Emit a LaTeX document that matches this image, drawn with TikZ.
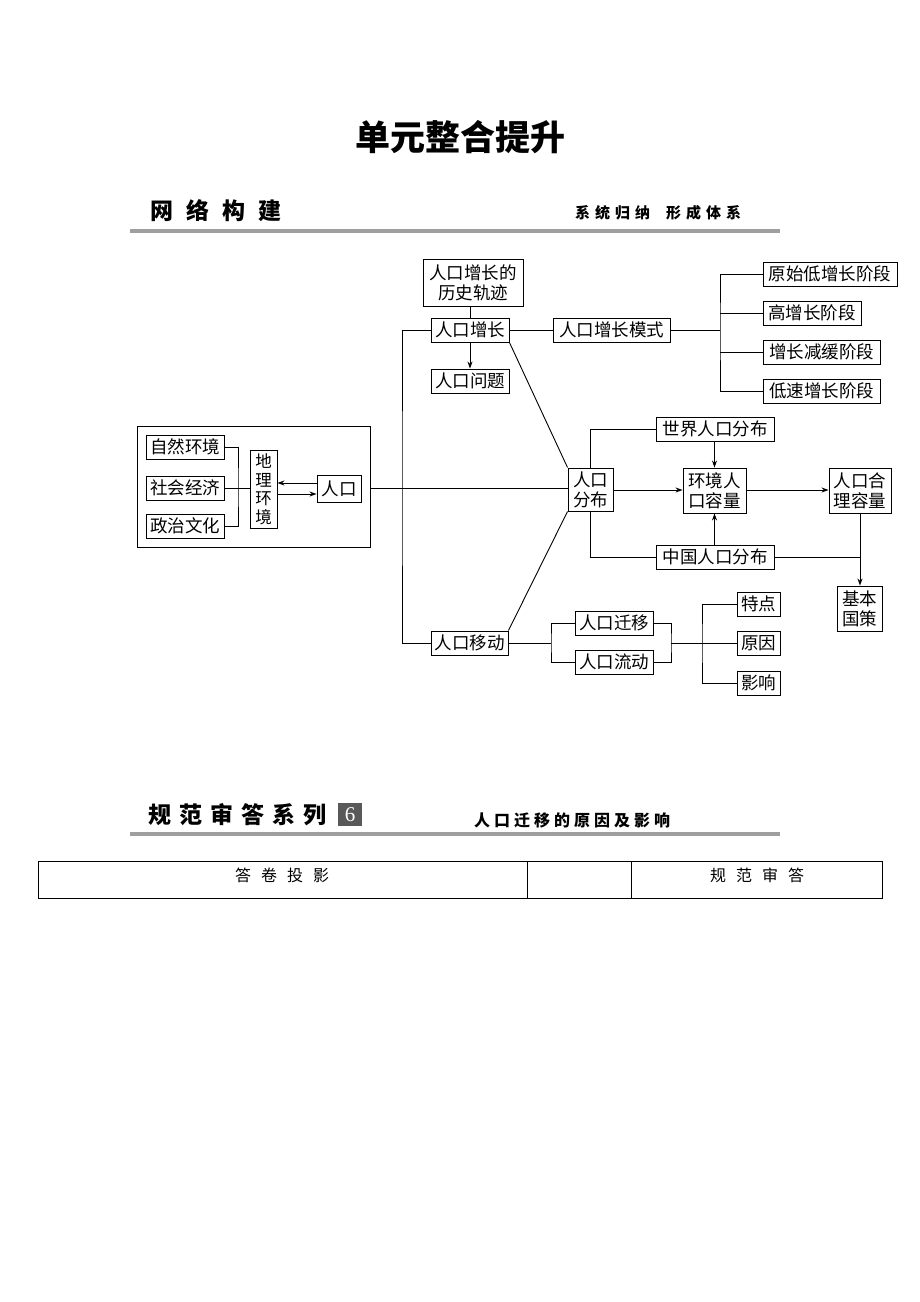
\documentclass[tikz,border=0pt]{standalone}
\usepackage{fontspec}
\setmainfont{Noto Sans CJK SC}
\newfontfamily\serifd{Liberation Serif}
\usetikzlibrary{arrows.meta}
\tikzset{
  box/.style={draw, line width=0.9pt, inner sep=0pt, align=center, font=\fontsize{17.5}{20}\selectfont},
  ln/.style={line width=0.9pt},
  arr/.style={ln, -{Stealth[length=7pt,width=5pt]}},
  bar/.style={line width=4pt, color=gray!75},
  hdr/.style={inner sep=0pt, anchor=west, font=\fontsize{23}{26}\selectfont\bfseries},
  sub/.style={inner sep=0pt, anchor=west, font=\fontsize{15}{18}\selectfont\bfseries},
}
\newcommand\bxn[6]{\node[box, minimum width={#4-#2}, minimum height={#5-#3}] (#1) at ({(#2+#4)/2},{(#3+#5)/2}) {#6};}
\begin{document}
\begin{tikzpicture}[x=1pt,y=-1pt]
\useasboundingbox[fill=white] (0,0) rectangle (920,1302);
% title
\node[inner sep=0pt, font=\fontsize{35}{40}\selectfont\bfseries] (title) at (460,137) {单元整合提升};
% header 1
\node[hdr] (h1) at (150,211) {网\hspace{13pt}络\hspace{13pt}构\hspace{13pt}建};
\node[sub] (h1r) at (575,213) {系\hspace{5pt}统\hspace{5pt}归\hspace{5pt}纳\hspace{16pt}形\hspace{5pt}成\hspace{5pt}体\hspace{5pt}系};
\coordinate (b1l) at (130,231); \coordinate (b1r) at (780,231);
\draw[bar] (b1l) -- (b1r);
% boxes
\bxn{ls}{423}{259}{523}{306}{人口增长的\\历史轨迹}
\bxn{rzz}{431}{318}{509}{342}{人口增长}
\bxn{rwt}{431}{369}{509}{393}{人口问题}
\bxn{ms}{553}{318}{670}{342}{人口增长模式}
\bxn{s1}{763}{262}{897}{286}{原始低增长阶段}
\bxn{s2}{763}{301}{861}{325}{高增长阶段}
\bxn{s3}{763}{340}{880}{364}{增长减缓阶段}
\bxn{s4}{763}{379}{880}{403}{低速增长阶段}
\node[draw, line width=0.9pt, minimum width=233pt, minimum height=121pt, inner sep=0pt] (big) at (253.5,486.5) {};
\bxn{zr}{146}{435}{224}{459}{自然环境}
\bxn{sh}{146}{476}{224}{500}{社会经济}
\bxn{zz}{146}{514}{224}{538}{政治文化}
\node[box, minimum width=27pt, minimum height=78pt, font=\fontsize{16.5}{18.5}\selectfont] (dl) at (263.5,489) {地\\理\\环\\境};
\bxn{rk}{317}{475}{361}{502}{人口}
\bxn{rfb}{568}{468}{613}{511}{人口\\分布}
\bxn{sj}{656}{417}{774}{441}{世界人口分布}
\bxn{hj}{683}{468}{746}{513}{环境人\\口容量}
\bxn{hl}{829}{468}{891}{513}{人口合\\理容量}
\bxn{zg}{656}{545}{774}{569}{中国人口分布}
\bxn{jb}{837}{586}{882}{631}{基本\\国策}
\bxn{ryd}{431}{631}{508}{655}{人口移动}
\bxn{qy}{575}{611}{653}{635}{人口迁移}
\bxn{ld}{575}{650}{653}{674}{人口流动}
\bxn{td}{737}{592}{780}{616}{特点}
\bxn{yy}{737}{631}{780}{655}{原因}
\bxn{yx}{737}{671}{780}{695}{影响}
% helper coordinates
\coordinate (lx) at (402,490);
\coordinate (bx2) at (720,330);
\coordinate (bx1) at (238,488);
\coordinate (y483) at (0,483);
\coordinate (y494) at (0,494);
\coordinate (y490) at (0,490);
\coordinate (c551) at (551,643);
\coordinate (c671) at (671,643);
\coordinate (c702) at (702,643);
% connectors
\draw[ln] (rzz.north) -- (rzz.north |- ls.south);
\draw[arr] (rzz.south) -- (rwt.north);
\draw[ln] (rzz.east) -- (ms.west);
\draw[ln] (ms.east) -- (bx2);
\draw[ln] (s1.west) -| (bx2) |- (s4.west);
\draw[ln] (s2.west) -- (s2.west -| bx2);
\draw[ln] (s3.west) -- (s3.west -| bx2);
\draw[ln] (rzz.west) -| (lx) |- (ryd.west);
\draw[ln] (zr.east) -| (bx1) |- (zz.east);
\draw[ln] (sh.east) -- (dl.west |- sh.east);
\draw[arr] (rk.west |- y483) -- (dl.east |- y483);
\draw[arr] (dl.east |- y494) -- (rk.west |- y494);
\draw[ln] (big.east |- rk) -- (rfb.west |- rk);
\draw[ln] (rzz.south east) -- (rfb.north west);
\draw[ln] (ryd.north east) -- (rfb.south west);
\draw[ln] (rfb.north) |- (sj.west);
\draw[arr] (sj.south -| hj.north) -- (hj.north);
\draw[ln] (rfb.south) |- (zg.west);
\draw[arr] (zg.north -| hj.south) -- (hj.south);
\draw[arr] (rfb.east |- y490) -- (hj.west |- y490);
\draw[arr] (hj.east |- y490) -- (hl.west |- y490);
\draw[ln] (zg.east) -- (zg.east -| hl.south);
\draw[arr] (hl.south) -- (jb.north -| hl.south);
\draw[ln] (ryd.east) -- (c551);
\draw[ln] (qy.west) -| (c551) |- (ld.west);
\draw[ln] (qy.east) -| (c671) |- (ld.east);
\draw[ln] (c671) -- (c702);
\draw[ln] (td.west) -| (c702) |- (yx.west);
\draw[ln] (yy.west) -- (c702);
% header 2
\node[hdr] (h2) at (148,815) {规\hspace{8pt}范\hspace{8pt}审\hspace{8pt}答\hspace{8pt}系\hspace{8pt}列};
\node[fill=gray!70!black, text=white, minimum width=24pt, minimum height=23pt, inner sep=0pt, font=\serifd\fontsize{21}{24}\selectfont] (six) at (350,814.5) {6};
\node[sub, font=\fontsize{16}{19}\selectfont\bfseries] (h2r) at (474,820) {人\hspace{4pt}口\hspace{4pt}迁\hspace{4pt}移\hspace{4pt}的\hspace{4pt}原\hspace{4pt}因\hspace{4pt}及\hspace{4pt}影\hspace{4pt}响};
\coordinate (b2l) at (130,834); \coordinate (b2r) at (780,834);
\draw[bar] (b2l) -- (b2r);
% table
\coordinate (t1) at (38,861); \coordinate (t2) at (882,898);
\coordinate (ta) at (527,861); \coordinate (tb) at (527,898);
\coordinate (tc) at (631,861); \coordinate (td2) at (631,898);
\draw[ln] (t1) rectangle (t2);
\draw[ln] (ta) -- (tb);
\draw[ln] (tc) -- (td2);
\node[inner sep=0pt, font=\fontsize{16}{19}\selectfont] (ta1) at (282,875) {答\hspace{10pt}卷\hspace{10pt}投\hspace{10pt}影};
\node[inner sep=0pt, font=\fontsize{16}{19}\selectfont] (ta2) at (757,875) {规\hspace{10pt}范\hspace{10pt}审\hspace{10pt}答};
\end{tikzpicture}
\end{document}
